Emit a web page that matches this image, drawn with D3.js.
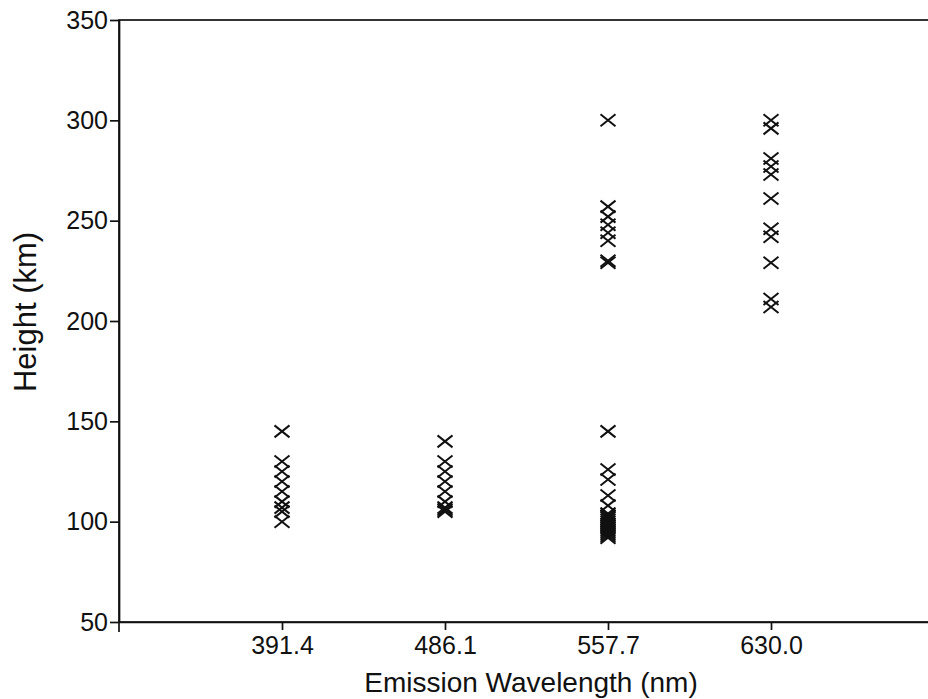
<!DOCTYPE html>
<html lang="en">
  <head>
    <meta charset="utf-8" />
    <title>Emission height vs wavelength</title>
    <script type="text/javascript" src="https://d3js.org/d3.v7.min.js"></script>
    <style>
      body {
        margin: 0;
        background: #fff;
      }
      .axis text {
        font-family: "Liberation Sans", Arial, sans-serif;
        font-size: 25px;
        fill: #111;
      }
      .axis path,
      .axis line {
        stroke: #111;
        stroke-width: 1.7px;
      }
      .title {
        font-family: "Liberation Sans", Arial, sans-serif;
        font-size: 28px;
        fill: #111;
      }
      path.mark {
        fill: none;
        stroke: #111;
        stroke-width: 2px;
      }
    </style>
  </head>
  <body>
    <script>
      // categories on the x axis
      let wavelengths = ["391.4", "486.1", "557.7", "630.0"];

      let heights391 = [145, 130, 125, 120, 115, 110, 107, 105, 100];
      let heights486 = [140, 130, 125, 120, 115, 110, 107, 106, 105];
      let heights557 = [
        300, 257, 252, 248, 244, 240, 230, 229,
        145, 126, 121, 113, 108,
        104, 103, 102, 101, 100, 99, 98, 97, 96, 95, 94, 93, 92
      ];
      let heights630 = [300, 296, 281, 277, 273, 261, 246, 242, 229, 211, 207];

      let yTicks = [50, 100, 150, 200, 250, 300, 350];

      let w = 928;
      let h = 699;
      let mLeft = 119;
      let mTop = 20;
      let mBottom = 622;
      let mRight = 934;

      let svg = d3
        .select("body")
        .append("svg")
        .attr("width", w)
        .attr("height", h);

      let x_scale = d3
        .scalePoint()
        .domain(wavelengths)
        .range([mLeft, mRight])
        .padding(1);

      let y_scale = d3.scaleLinear().domain([50, 350]).range([mBottom, mTop]);

      // frame (top and right edges)
      svg
        .append("rect")
        .attr("x", mLeft)
        .attr("y", mTop)
        .attr("width", mRight - mLeft)
        .attr("height", mBottom - mTop)
        .attr("fill", "none")
        .attr("stroke", "#111")
        .attr("stroke-width", 1.7);

      let y_axis = d3
        .axisLeft(y_scale)
        .tickValues(yTicks)
        .tickSize(9)
        .tickPadding(2)
        .tickSizeOuter(0);

      svg
        .append("g")
        .attr("class", "y axis")
        .attr("transform", `translate(${mLeft},0)`)
        .call(y_axis);

      let x_axis = d3
        .axisBottom(x_scale)
        .tickSize(8)
        .tickPadding(6)
        .tickSizeOuter(0);

      svg
        .append("g")
        .attr("class", "x axis")
        .attr("transform", `translate(0,${mBottom})`)
        .call(x_axis);

      // left axis runs a little below the bottom axis
      svg
        .append("line")
        .attr("x1", mLeft)
        .attr("x2", mLeft)
        .attr("y1", mBottom)
        .attr("y2", mBottom + 10)
        .attr("stroke", "#111")
        .attr("stroke-width", 1.7);

      let points = [];
      [heights391, heights486, heights557, heights630].forEach((arr, i) => {
        arr.forEach((v) => points.push({ wl: wavelengths[i], h: v }));
      });

      let cross = "M-7.5,-6L7.5,6M-7.5,6L7.5,-6";

      svg
        .append("g")
        .selectAll("path")
        .data(points)
        .join("path")
        .attr("class", "mark")
        .attr("d", cross)
        .attr("transform", (d) => `translate(${x_scale(d.wl)},${y_scale(d.h)})`);

      svg
        .append("text")
        .attr("class", "title")
        .attr("x", 531)
        .attr("y", 692)
        .attr("text-anchor", "middle")
        .text("Emission Wavelength (nm)");

      svg
        .append("text")
        .attr("class", "title")
        .style("font-size", "31px")
        .attr("transform", "translate(36,312) rotate(-90)")
        .attr("text-anchor", "middle")
        .text("Height (km)");
    </script>
  </body>
</html>
